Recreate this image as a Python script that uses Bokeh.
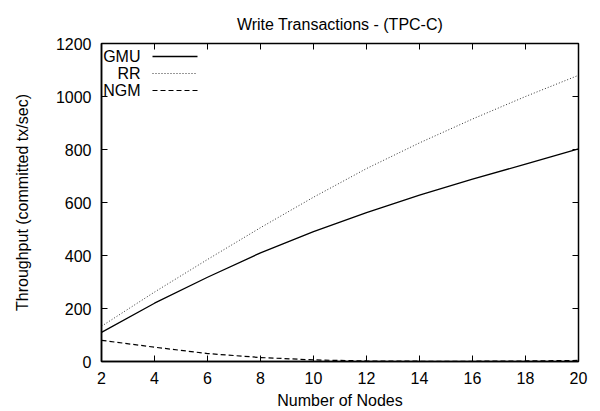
from bokeh.plotting import figure
from bokeh.models import (FixedTicker, LinearAxis, Range1d, Label, Arrow,
                          CustomJSTickFormatter)
from bokeh.embed import file_html
from bokeh.resources import INLINE

# ---- data ----
nodes = [2, 4, 6, 8, 10, 12, 14, 16, 18, 20]
gmu = [110, 220, 318, 410, 490, 562, 628, 688, 745, 802]
rr = [133, 262, 385, 505, 620, 728, 825, 915, 1000, 1080]
ngm = [80, 54, 30, 15, 6, 2, 1, 1, 2, 4]

series_names = ["GMU", "RR", "NGM"]
x_ticks = [2, 4, 6, 8, 10, 12, 14, 16, 18, 20]
y_ticks = [0, 200, 400, 600, 800, 1000, 1200]

FONT = "Liberation Sans"

p = figure(width=592, height=411, output_backend="svg", toolbar_location=None,
           x_range=Range1d(2, 20), y_range=Range1d(0, 1200),
           min_border_left=101, min_border_right=14, min_border_top=43,
           min_border_bottom=49,
           title="Write Transactions - (TPC-C)")

p.title.text_font = FONT
p.title.text_font_size = "16px"
p.title.text_font_style = "normal"
p.title.align = "center"
p.title.text_color = "black"
p.title.standoff = 22

p.xgrid.visible = False
p.ygrid.visible = False
p.outline_line_color = "black"
p.outline_line_width = 1.5
p.background_fill_color = "white"
p.border_fill_color = "white"

for ax in (p.xaxis[0], p.yaxis[0]):
    ax.major_label_text_font = FONT
    ax.major_label_text_font_size = "16px"
    ax.major_label_text_color = "black"
    ax.axis_label_text_font = FONT
    ax.axis_label_text_font_size = "16px"
    ax.axis_label_text_font_style = "normal"
    ax.axis_label_text_color = "black"
    ax.major_tick_in = 6
    ax.major_tick_out = 0
    ax.minor_tick_line_color = None
    ax.axis_line_color = "black"
    ax.axis_line_width = 1.5
    ax.major_tick_line_color = "black"

p.xaxis[0].ticker = FixedTicker(ticks=x_ticks)
p.yaxis[0].ticker = FixedTicker(ticks=y_ticks)
p.xaxis[0].axis_label = "Number of Nodes"
p.yaxis[0].axis_label = "Throughput (committed tx/sec)"
p.xaxis[0].major_label_standoff = 10
p.yaxis[0].major_label_standoff = 10
p.xaxis[0].axis_label_standoff = 5
p.yaxis[0].axis_label_standoff = 22

# mirrored ticks on top and right (no labels)
blank = CustomJSTickFormatter(code="return '';")
top = LinearAxis(ticker=FixedTicker(ticks=x_ticks), formatter=blank,
                 major_label_standoff=0, major_tick_in=6, major_tick_out=0,
                 minor_tick_line_color=None, axis_line_color="black")
right = LinearAxis(ticker=FixedTicker(ticks=y_ticks), formatter=blank,
                   major_label_standoff=0, major_tick_in=6, major_tick_out=0,
                   minor_tick_line_color=None, axis_line_color="black")
p.add_layout(top, "above")
p.add_layout(right, "right")

styles = [
    dict(line_color="black", line_width=1.3, line_dash="solid"),
    dict(line_color="#333333", line_width=1.0, line_dash="1 2"),
    dict(line_color="black", line_width=1.2, line_dash="5 3"),
]
for ys, st in zip([gmu, rr, ngm], styles):
    p.line(nodes, ys, **st)

# custom gnuplot-style legend (label then sample), in screen units
for i, (name, st) in enumerate(zip(series_names, styles)):
    yy = 305 - 17 * i
    p.add_layout(Label(x=39, y=yy, x_units="screen", y_units="screen", text=name,
                       text_align="right", text_baseline="middle",
                       text_font=FONT, text_font_size="16px", text_color="black"))
    p.add_layout(Arrow(end=None, x_start=51, y_start=yy, x_end=96, y_end=yy,
                       start_units="screen", end_units="screen", **st))

open("out.html", "w").write(file_html(p, INLINE))
